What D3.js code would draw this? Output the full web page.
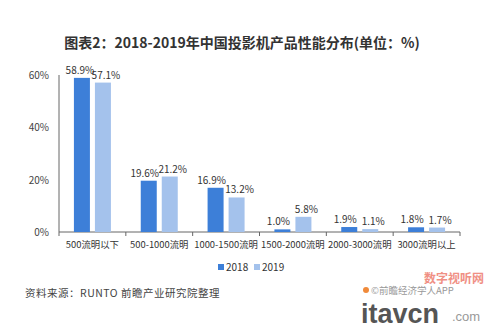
<!DOCTYPE html>
<html><head><meta charset="utf-8">
<script src="https://cdn.jsdelivr.net/npm/d3@7"></script>
<style>body{margin:0;background:#fff}svg{display:block;font-family:"Noto Sans CJK SC","Noto Sans",sans-serif}</style>
</head><body><svg id="c" width="500" height="334"></svg>
<script>
const categories = ["500流明以下","500-1000流明","1000-1500流明","1500-2000流明","2000-3000流明","3000流明以上"];
const series2018 = [58.9, 19.6, 16.9, 1.0, 1.9, 1.8];
const series2019 = [57.1, 21.2, 13.2, 5.8, 1.1, 1.7];
const seriesNames = ["2018","2019"];
const yTicks = [0, 20, 40, 60];
const colors = ["#3d7fd8", "#a4c2ec"];

(function(){
const svg = d3.select("#c");
svg.append("rect").attr("width",500).attr("height",334).attr("fill","#fff");

svg.append("text").attr("x",242).attr("y",48).attr("text-anchor","middle")
  .attr("font-size",14).attr("font-weight","bold").attr("fill","#333")
  .text("图表2：2018-2019年中国投影机产品性能分布(单位：%)");

const mL = 59, mR = 460, mT = 75, mB = 232;
const x = d3.scaleBand().domain(categories).range([mL, mR]);
const y = d3.scaleLinear().domain([0, 60]).range([mB, mT]);
const bw = 16, gap = 5;

const g = svg.append("g");
g.append("line").attr("x1",mL).attr("x2",mL).attr("y1",mT).attr("y2",mB).attr("stroke","#666");
yTicks.forEach(t => {
  g.append("text").attr("x",mL-10).attr("y",y(t)+4).attr("text-anchor","end")
    .attr("font-size",10).attr("fill","#444").text(t + "%");
});
g.append("line").attr("x1",mL).attr("x2",mR).attr("y1",mB).attr("y2",mB).attr("stroke","#666");
categories.forEach((c,i) => {
  const x0 = x(c);
  g.append("line").attr("x1",x0).attr("x2",x0).attr("y1",mB).attr("y2",mB+4).attr("stroke","#666");
  if (i === categories.length-1) g.append("line").attr("x1",x0+x.bandwidth()).attr("x2",x0+x.bandwidth()).attr("y1",mB).attr("y2",mB+4).attr("stroke","#666");
  g.append("text").attr("x",x0 + x.bandwidth()/2).attr("y",mB+16).attr("text-anchor","middle")
    .attr("font-size",9.4).attr("fill","#333").text(c);
});
const data = [series2018, series2019];
data.forEach((s, si) => {
  s.forEach((v, i) => {
    const cx = x(categories[i]) + x.bandwidth()/2;
    const bx = si === 0 ? cx - gap/2 - bw : cx + gap/2;
    g.append("rect").attr("x",bx).attr("y",y(v)).attr("width",bw).attr("height",mB - y(v)).attr("fill",colors[si]);
    g.append("text").attr("x",bx + bw/2 + (i===0 ? (si===0?-2:3) : (si===0 ? -4 : 3))).attr("y",y(v) - 4)
      .attr("text-anchor","middle").attr("font-size",10).attr("fill","#333").text(v.toFixed(1) + "%");
  });
});
const lg = svg.append("g");
[[218,"2018"],[254,"2019"]].forEach((d,i) => {
  lg.append("rect").attr("x",d[0]).attr("y",264).attr("width",6).attr("height",6).attr("fill",colors[i]);
  lg.append("text").attr("x",d[0]+8).attr("y",271).attr("font-size",10).attr("fill","#333").text(d[1]);
});
svg.append("text").attr("x",25).attr("y",297).attr("font-size",10.5).attr("fill","#444").attr("letter-spacing",0.5)
  .text("资料来源：RUNTO 前瞻产业研究院整理");
svg.append("circle").attr("cx",366).attr("cy",290).attr("r",3).attr("fill","#f08a3a");
svg.append("text").attr("x",371).attr("y",294).attr("font-size",9.5).attr("fill","#999").text("©前瞻经济学人APP");
svg.append("text").attr("x",424).attr("y",283).attr("font-size",12).attr("font-weight","bold").attr("fill","#ee7d6f").attr("opacity",0.85).text("数字视听网");
svg.append("text").attr("x",361).attr("y",323).attr("font-size",27).attr("font-weight","bold").attr("fill","#555").attr("font-family","Liberation Sans, sans-serif").text("itavcn");
svg.append("text").attr("x",452).attr("y",321).attr("font-size",13).attr("fill","#999").attr("font-family","Liberation Sans, sans-serif").text(".com");
})();
</script></body></html>
